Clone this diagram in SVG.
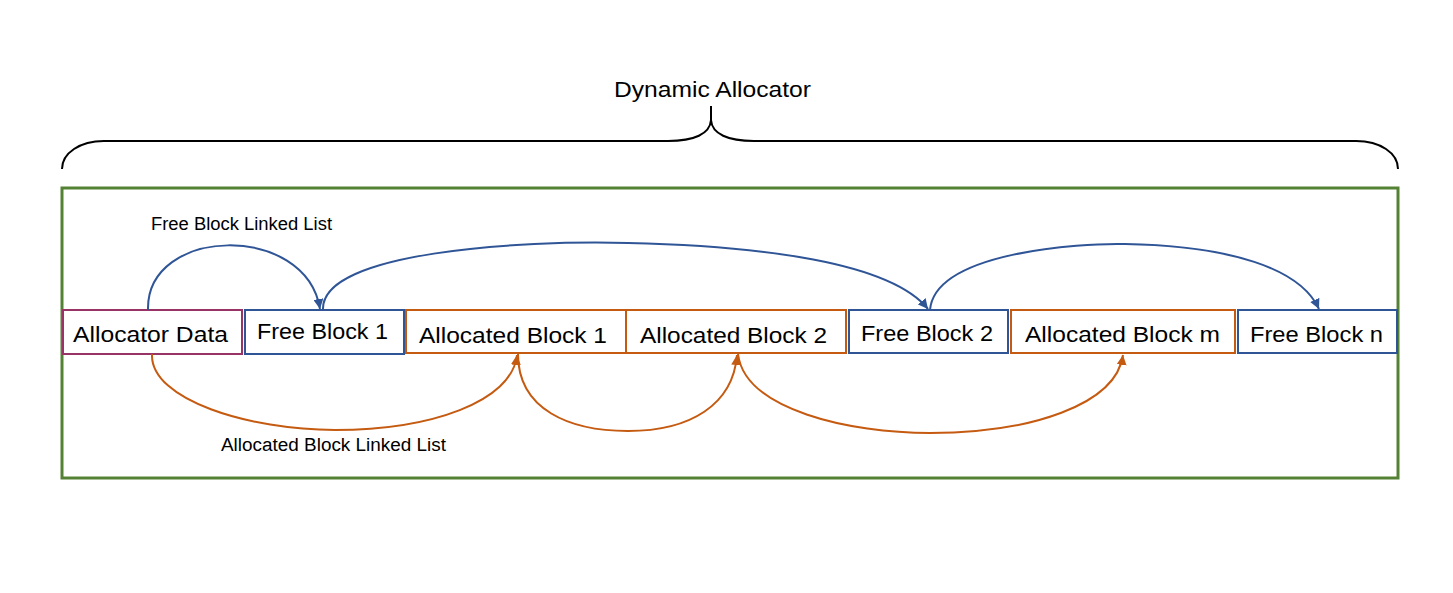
<svg xmlns="http://www.w3.org/2000/svg" width="1453" height="593" viewBox="0 0 1453 593">
<defs>
<style>
.lbl{font-family:"Liberation Sans",Arial,sans-serif;fill:#000}
.big{font-size:22px}
.small{font-size:18px}
.box{fill:#fff;stroke-width:2}
.free{stroke:#2F5597}
.alloc{stroke:#C55A11}
.meta{stroke:#993366}
.bl{fill:none;stroke:#2F5597;stroke-width:2}
.or{fill:none;stroke:#C55A11;stroke-width:2}
</style>
<marker id="ab" viewBox="0 0 10 10" refX="10" refY="5" markerWidth="10" markerHeight="10" markerUnits="userSpaceOnUse" orient="auto">
<path d="M0,0 L10,5 L0,10 z" fill="#2F5597"/>
</marker>
<marker id="ao" viewBox="0 0 10 10" refX="10" refY="5" markerWidth="10" markerHeight="10" markerUnits="userSpaceOnUse" orient="auto">
<path d="M0,0 L10,5 L0,10 z" fill="#C55A11"/>
</marker>
</defs>
<rect width="1453" height="593" fill="#fff"/>
<g id="title">
<text class="lbl big" x="614" y="97" textLength="197" lengthAdjust="spacingAndGlyphs">Dynamic Allocator</text>
<path d="M62,169 C62,153 80,141 104,141 L668,141 C694,141 710,134 711,120 L711,106 M711,120 C712,134 728,141 754,141 L1356,141 C1380,141 1398,153 1398,169" fill="none" stroke="#000" stroke-width="2"/>
</g>
<g id="container">
<rect x="62" y="188" width="1336" height="290" fill="none" stroke="#548235" stroke-width="3"/>
</g>
<g id="allocator-data">
<rect class="box meta" x="63" y="310" width="179" height="44"/>
<text class="lbl big" x="73" y="342" textLength="155" lengthAdjust="spacingAndGlyphs">Allocator Data</text>
</g>
<g id="free-block-1">
<rect class="box free" x="245" y="310" width="159" height="44"/>
<text class="lbl big" x="257" y="339" textLength="131" lengthAdjust="spacingAndGlyphs">Free Block 1</text>
</g>
<g id="allocated-block-1">
<rect class="box alloc" x="406" y="310" width="220" height="43"/>
<text class="lbl big" x="419" y="343" textLength="188" lengthAdjust="spacingAndGlyphs">Allocated Block 1</text>
</g>
<g id="allocated-block-2">
<rect class="box alloc" x="626" y="310" width="220" height="43"/>
<text class="lbl big" x="640" y="343" textLength="187" lengthAdjust="spacingAndGlyphs">Allocated Block 2</text>
</g>
<g id="free-block-2">
<rect class="box free" x="849" y="310" width="159" height="43"/>
<text class="lbl big" x="861" y="341" textLength="132" lengthAdjust="spacingAndGlyphs">Free Block 2</text>
</g>
<g id="allocated-block-m">
<rect class="box alloc" x="1011" y="310" width="224" height="43"/>
<text class="lbl big" x="1025" y="342" textLength="195" lengthAdjust="spacingAndGlyphs">Allocated Block m</text>
</g>
<g id="free-block-n">
<rect class="box free" x="1238" y="310" width="159" height="43"/>
<text class="lbl big" x="1250" y="342" textLength="133" lengthAdjust="spacingAndGlyphs">Free Block n</text>
</g>
<g id="connectors">
<path class="bl" marker-end="url(#ab)" d="M148,310 C146,226 306,222 320,309"/>
<path class="bl" marker-end="url(#ab)" d="M323,310 C320,252 520,240 628,243 C760,246 890,262 928,309"/>
<path class="bl" marker-end="url(#ab)" d="M930,310 C935,252 1080,243 1125,244 C1230,246 1300,268 1319,309"/>
<path class="or" marker-end="url(#ao)" d="M152,354 C150,400 250,430 335,430 C430,430 512,402 517,355"/>
<path class="or" marker-end="url(#ao)" d="M518,354 C518,410 570,431 628,431 C690,431 733,405 737,355"/>
<path class="or" marker-end="url(#ao)" d="M738,354 C745,410 850,433 930,433 C1030,433 1116,405 1123,355"/>
</g>
<g id="labels">
<text class="lbl small" x="151" y="230" textLength="181" lengthAdjust="spacingAndGlyphs">Free Block Linked List</text>
<text class="lbl small" x="221" y="451" textLength="225" lengthAdjust="spacingAndGlyphs">Allocated Block Linked List</text>
</g>
</svg>
